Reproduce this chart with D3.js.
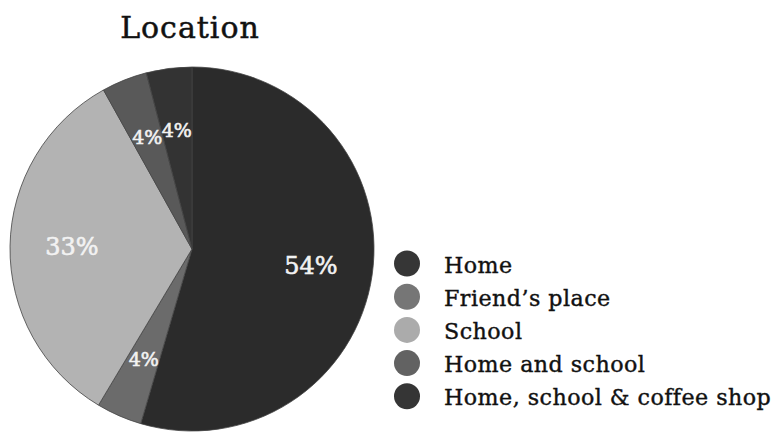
<!DOCTYPE html>
<html>
<head>
<meta charset="utf-8">
<script src="https://cdn.jsdelivr.net/npm/d3@7"></script>
<style>
  html, body { margin: 0; padding: 0; background: #fff; }
  svg { display: block; }
</style>
</head>
<body>
<svg id="chart" width="779" height="432"></svg>
<script>
// Where students work, as percentages
const categories = ["Home", "Friend\u2019s place", "School", "Home and school", "Home, school & coffee shop"];
const values = [54, 4, 33, 4, 4];
const sliceColors = ["#2b2b2b", "#6b6b6b", "#b3b3b3", "#595959", "#333333"];
const legendColors = ["#363636", "#767676", "#ababab", "#626262", "#353535"];
const title = "Location";

const svg = d3.select("#chart");
const font = "'DejaVu Serif', 'Liberation Serif', serif";

const cx = 192, cy = 249, radius = 182;

svg.append("text")
  .attr("x", 190)
  .attr("y", 38)
  .attr("text-anchor", "middle")
  .attr("font-family", font)
  .attr("font-size", 30)
  .attr("letter-spacing", 1)
  .attr("fill", "#111")
  .attr("stroke", "#111")
  .attr("stroke-width", 0.5)
  .text(title);

const pie = d3.pie().sort(null).value(d => d.value);
const data = pie(categories.map((c, i) => ({ name: c, value: values[i], i })));

const arc = d3.arc().innerRadius(0).outerRadius(radius);
const labelArc = d3.arc().innerRadius(radius * 0.66).outerRadius(radius * 0.66);

const g = svg.append("g").attr("transform", `translate(${cx},${cy})`);

g.selectAll("path.slice")
  .data(data)
  .join("path")
  .attr("class", "slice")
  .attr("d", arc)
  .attr("fill", d => sliceColors[d.data.i])
  .attr("stroke", "#444")
  .attr("stroke-width", 0.8);

g.selectAll("text.pct")
  .data(data)
  .join("text")
  .attr("class", "pct")
  .attr("transform", d => `translate(${labelArc.centroid(d)})`)
  .attr("text-anchor", "middle")
  .attr("dominant-baseline", "central")
  .attr("font-family", font)
  .attr("font-size", d => d.data.value > 10 ? 24 : 19)
  .attr("fill", "#f2f2f2")
  .attr("stroke", "#f2f2f2")
  .attr("stroke-width", 0.6)
  .text(d => d.data.value + "%");

// Legend
const legend = svg.append("g").attr("transform", "translate(407,263.5)");
const rowH = 33.2;
const rows = legend.selectAll("g.row")
  .data(categories)
  .join("g")
  .attr("class", "row")
  .attr("transform", (d, i) => `translate(0,${i * rowH})`);

rows.append("circle")
  .attr("r", 13)
  .attr("fill", (d, i) => legendColors[i]);

rows.append("text")
  .attr("x", 37)
  .attr("y", 1)
  .attr("dominant-baseline", "central")
  .attr("font-family", font)
  .attr("font-size", 22.2)
  .attr("letter-spacing", 0.45)
  .attr("fill", "#111")
  .attr("stroke", "#111")
  .attr("stroke-width", 0.4)
  .text(d => d);
</script>
</body>
</html>
